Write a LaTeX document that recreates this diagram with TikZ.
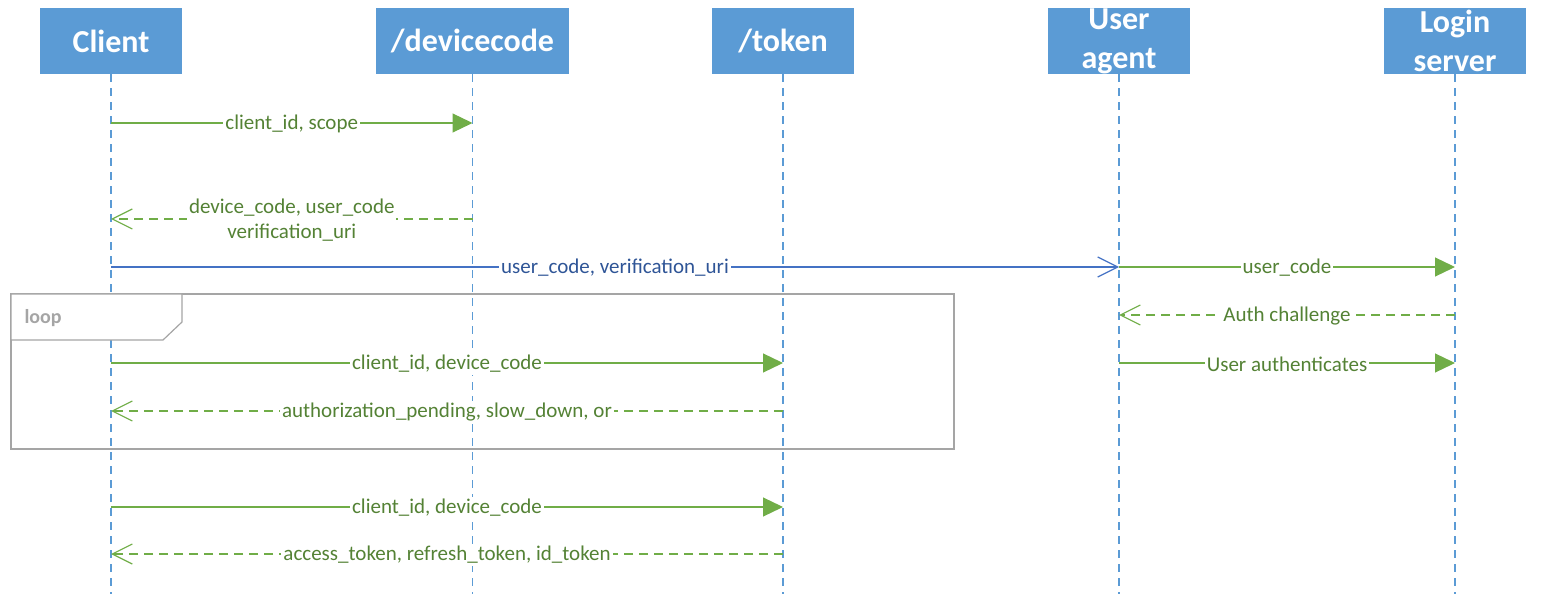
\documentclass[tikz,border=0pt]{standalone}
\usepackage{fontspec}
\setmainfont{Carlito}
\usetikzlibrary{arrows.meta}
\definecolor{boxblue}{HTML}{5B9BD5}
\definecolor{arrgreen}{HTML}{70AD47}
\definecolor{txtgreen}{HTML}{548235}
\definecolor{msgblue}{HTML}{4472C4}
\definecolor{txtblue}{HTML}{2F5597}
\definecolor{framegray}{HTML}{A5A5A5}
\begin{document}
\begin{tikzpicture}[x=1pt,y=-1pt,
  head/.style={rectangle,fill=boxblue,draw=none,minimum height=66pt,inner sep=0pt,
    text=white,font=\fontsize{32}{39}\selectfont\bfseries,align=center},
  lifeline/.style={draw=boxblue,line width=1.1pt,dash pattern=on 8pt off 6pt},
  msglabel/.style={fill=white,inner sep=2pt,text=txtgreen,font=\fontsize{21}{25}\selectfont,align=center},
  callmsg/.style={draw=arrgreen,line width=1.2pt,-{Triangle[length=20pt,width=19pt]}},
  replymsg/.style={draw=arrgreen,line width=1.2pt,dash pattern=on 9pt off 6pt,
    -{Straight Barb[length=20pt,width=20pt,line width=1.2pt]}},
  bluemsg/.style={draw=msgblue,line width=1.2pt,-{Straight Barb[length=20pt,width=20pt,line width=1.2pt]}},
  frameline/.style={draw=framegray,line width=1.2pt}
]
\useasboundingbox (0,0) rectangle (1542,601);
% heads
\node[head,minimum width=142pt] (client) at (111,41) {Client};
\node[head,minimum width=193pt] (dc) at (472.5,41) {/devicecode};
\node[head,minimum width=142pt] (tok) at (783,41) {/token};
\node[head,minimum width=142pt] (ua) at (1119,41) {\raisebox{-2pt}{User}\\\raisebox{-2pt}{agent}};
\node[head,minimum width=142pt] (ls) at (1455,41) {\raisebox{-1pt}{Login}\\\raisebox{-1pt}{server}};
% y levels
\coordinate (yend) at (0,594);
\coordinate (y1) at (0,123);
\coordinate (y2) at (0,219);
\coordinate (y3) at (0,267);
\coordinate (y4) at (0,315);
\coordinate (y5) at (0,363);
\coordinate (y6) at (0,411);
\coordinate (y7) at (0,507);
\coordinate (y8) at (0,554);
% lifelines
\foreach \n in {client,dc,tok,ua,ls}{
  \draw[lifeline] (\n.south) -- (\n |- yend);
}
% loop frame
\coordinate (fr1) at (11,294);
\coordinate (fr2) at (954,449);
\draw[frameline] (fr1) rectangle (fr2);
\coordinate (tabA) at (182,294);
\coordinate (tabB) at (182,322);
\coordinate (tabC) at (163,340);
\coordinate (tabD) at (11,340);
\filldraw[frameline,fill=white] (fr1) -- (tabA) -- (tabB) -- (tabC) -- (tabD) -- cycle;
\node[text=framegray,font=\fontsize{20}{24}\selectfont\bfseries,anchor=west] (looplbl) at (21,318) {loop};
% messages
\draw[callmsg] (client |- y1) -- (dc |- y1) node[msglabel,midway,yshift=-1pt] {client\_id, scope};
\draw[replymsg] (dc |- y2) -- (client |- y2) node[msglabel,midway,yshift=-1pt] {device\_code, user\_code\\verification\_uri};
\draw[bluemsg] (client |- y3) -- (ua |- y3) node[msglabel,midway,yshift=-1pt,text=txtblue] {user\_code, verification\_uri};
\draw[callmsg] (ua |- y3) -- (ls |- y3) node[msglabel,midway,yshift=-1pt] {user\_code};
\draw[replymsg] (ls |- y4) -- (ua |- y4) node[msglabel,midway,yshift=-1pt] {Auth challenge};
\draw[callmsg] (ua |- y5) -- (ls |- y5) node[msglabel,midway,yshift=-1pt] {User authenticates};
\draw[callmsg] (client |- y5) -- (tok |- y5) node[msglabel,midway,yshift=-1pt] {client\_id, device\_code};
\draw[replymsg] (tok |- y6) -- (client |- y6) node[msglabel,midway,yshift=-1pt] {authorization\_pending, slow\_down, or};
\draw[callmsg] (client |- y7) -- (tok |- y7) node[msglabel,midway,yshift=-1pt] {client\_id, device\_code};
\draw[replymsg] (tok |- y8) -- (client |- y8) node[msglabel,midway,yshift=-1pt] {access\_token, refresh\_token, id\_token};
\end{tikzpicture}
\end{document}
